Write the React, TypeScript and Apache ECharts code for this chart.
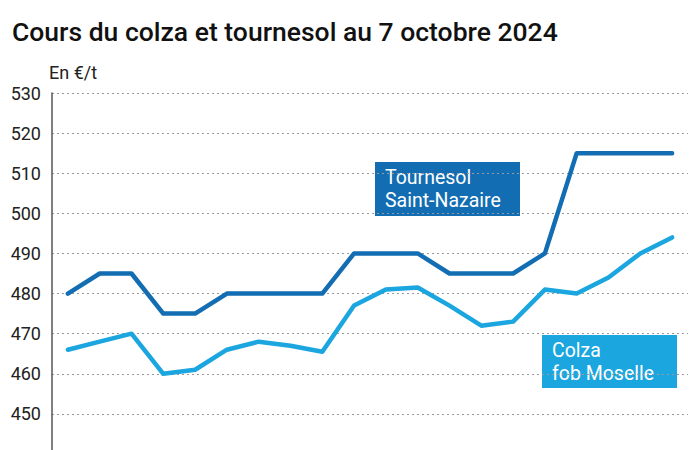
import React, { useEffect, useRef } from "react";
import * as echarts from "echarts";

const categories = ["1","2","3","4","5","6","7","8","9","10","11","12","13","14","15","16","17","18","19","20"];
const tournesol = [480, 485, 485, 475, 475, 480, 480, 480, 480, 490, 490, 490, 485, 485, 485, 490, 515, 515, 515, 515];
const colza = [466, 468, 470, 460, 461, 466, 468, 467, 465.5, 477, 481, 481.5, 477, 472, 473, 481, 480, 484, 490, 494];
const yTicks = [450, 460, 470, 480, 490, 500, 510, 520, 530];

const DARK = "#126db2";
const LIGHT = "#1ba6df";
const FONT = "Roboto, 'Noto Sans', sans-serif";

const lineText = (text: string, y: number) => ({
  type: "text",
  x: 10,
  y,
  style: { text, fill: "#fff", font: `400 19.5px ${FONT}`, verticalAlign: "top" },
});

export default function App() {
  const ref = useRef<HTMLDivElement>(null);
  useEffect(() => {
    const chart = echarts.init(ref.current!, null, { renderer: "svg" });
    chart.setOption({
      animation: false,
      grid: { left: 52, right: 12, top: 93, bottom: 6, containLabel: false },
      title: {
        text: "Cours du colza et tournesol au 7 octobre 2024",
        left: 7,
        top: 13,
        textStyle: { fontFamily: FONT, fontSize: 26.5, fontWeight: 500, color: "#111" },
      },
      xAxis: {
        type: "category",
        data: categories,
        boundaryGap: true,
        axisLine: { show: false },
        axisTick: { show: false },
        axisLabel: { show: false },
        splitLine: { show: false },
      },
      yAxis: {
        type: "value",
        min: 440,
        max: 530,
        interval: 10,
        name: "En €/t",
        nameLocation: "end",
        nameGap: 12,
        nameTextStyle: { fontFamily: FONT, fontSize: 18, color: "#222", align: "left", padding: [0, 0, 0, -3] },
        axisLine: { show: true, lineStyle: { color: "#555", width: 1.5 } },
        axisTick: { show: false },
        axisLabel: {
          fontFamily: FONT,
          fontSize: 18,
          color: "#222",
          margin: 11,
          formatter: (v: number) => (yTicks.includes(v) ? String(v) : ""),
        },
        splitLine: {
          show: true,
          lineStyle: { color: "#999", type: [2, 3], width: 1 },
        },
      },
      series: [
        {
          name: "Tournesol Saint-Nazaire",
          type: "line",
          data: tournesol,
          symbol: "none",
          lineStyle: { color: DARK, width: 4.5, cap: "round", join: "round" },
          z: 3,
        },
        {
          name: "Colza fob Moselle",
          type: "line",
          data: colza,
          symbol: "none",
          lineStyle: { color: LIGHT, width: 4.5, cap: "round", join: "round" },
          z: 2,
        },
      ],
      graphic: [
        {
          type: "group",
          left: 375,
          top: 162,
          children: [
            { type: "rect", shape: { x: 0, y: 0, width: 145, height: 54 }, style: { fill: DARK } },
            lineText("Tournesol", 5),
            lineText("Saint-Nazaire", 28),
          ],
        },
        {
          type: "group",
          left: 542,
          top: 335,
          children: [
            { type: "rect", shape: { x: 0, y: 0, width: 135, height: 53 }, style: { fill: LIGHT } },
            lineText("Colza", 5),
            lineText("fob Moselle", 28),
          ],
        },
      ],
    });
    return () => chart.dispose();
  }, []);
  return (
    <div style={{ position: "fixed", left: 0, top: 0, width: 700, height: 450, overflow: "hidden", background: "#fff" }}>
      <div ref={ref} style={{ width: 700, height: 460 }} />
    </div>
  );
}
